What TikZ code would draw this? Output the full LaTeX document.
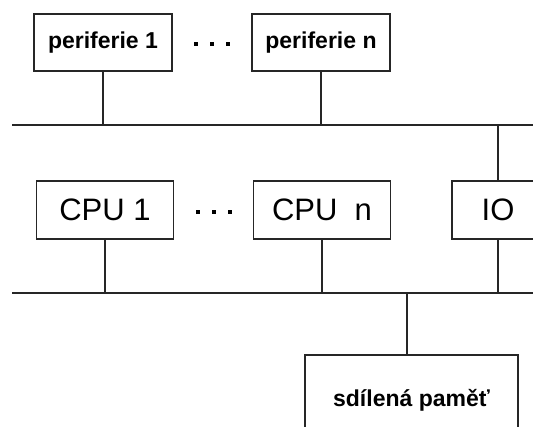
\documentclass[tikz,border=0pt]{standalone}
\usepackage{fontspec}
\setmainfont{Liberation Sans}
\begin{document}
\begin{tikzpicture}[x=1pt,y=-1pt,
  ln/.style={draw=black!85,line width=1.5pt},
  perbox/.style={ln,fill=white,rectangle,inner sep=0pt,minimum width=138pt,minimum height=57pt,font=\fontsize{23}{25}\selectfont\bfseries},
  cpubox/.style={ln,fill=white,rectangle,inner sep=0pt,minimum width=137pt,minimum height=58pt,font=\fontsize{31}{33}\selectfont},
  membox/.style={ln,fill=white,rectangle,inner sep=0pt,minimum width=213pt,minimum height=90pt,font=\fontsize{23}{25}\selectfont\bfseries},
  dot/.style={fill=black,draw=none}]
\useasboundingbox (0,0) rectangle (533,427);
\clip (0,0) rectangle (533,427);
% buses
\coordinate (busAL) at (12,125);
\coordinate (busAR) at (545,125);
\coordinate (busBL) at (12,293);
\coordinate (busBR) at (545,293);
\draw[ln] (busAL) -- (busAR);
\draw[ln] (busBL) -- (busBR);
% nodes
\node[perbox] (per1) at (103,42.5) {periferie 1};
\node[perbox] (pern) at (321,42.5) {periferie n};
\node[cpubox] (cpu1) at (105,210) {CPU 1};
\node[cpubox] (cpun) at (322,210) {CPU\ \ n};
\node[cpubox,minimum width=92pt] (io) at (498,210) {IO};
\node[membox] (mem) at (411.5,400) {\raisebox{3pt}{sdílená paměť}};
% dots
\foreach \x in {196,212,228} \fill[dot] (\x-1.6,42.4) rectangle (\x+1.6,45.6);
\foreach \x in {198,214,230} \fill[dot] (\x-1.6,210.4) rectangle (\x+1.6,213.6);
% connectors
\draw[ln] (per1.south) -- (per1.south |- busAL);
\draw[ln] (pern.south) -- (pern.south |- busAL);
\draw[ln] (io.north) -- (io.north |- busAL);
\draw[ln] (cpu1.south) -- (cpu1.south |- busBL);
\draw[ln] (cpun.south) -- (cpun.south |- busBL);
\draw[ln] (io.south) -- (io.south |- busBL);
\draw[ln] ([xshift=-4.5pt]mem.north) -- ([xshift=-4.5pt]mem.north |- busBL);
\end{tikzpicture}
\end{document}
